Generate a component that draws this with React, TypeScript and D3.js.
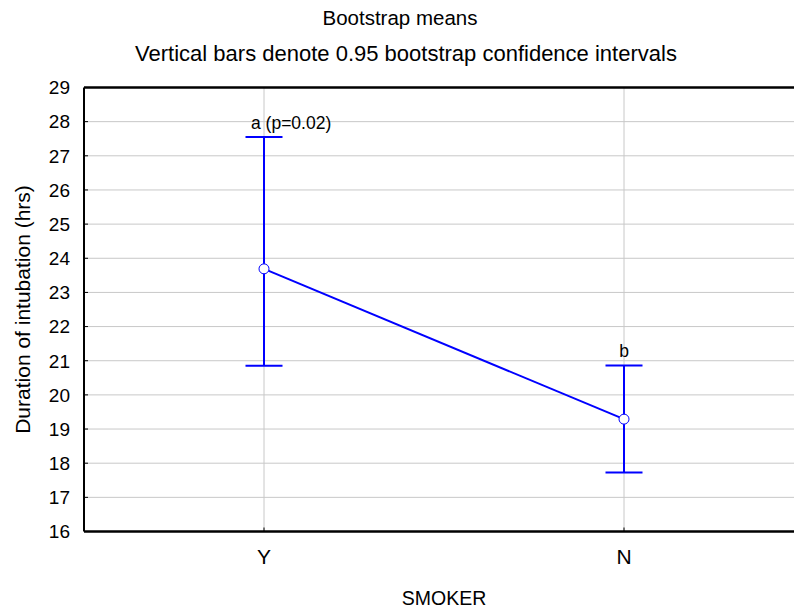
import React from "react";
import * as d3 from "d3";

const categories = ["Y", "N"];
const means = [23.69, 19.29];
const lower = [20.85, 17.73];
const upper = [27.55, 20.86];
const annotations = ["a (p=0.02)", "b"];
const yTicks = [16, 17, 18, 19, 20, 21, 22, 23, 24, 25, 26, 27, 28, 29];

const W = 794;
const H = 614;
const M = { left: 84, right: 794, top: 87.5, bottom: 531.5 };
const FONT = "'Liberation Sans', Arial, sans-serif";
const BLUE = "#0000ff";

export default function App() {
  const x = d3.scalePoint<string>().domain(categories).range([264, 624]);
  const y = d3.scaleLinear().domain([16, 29]).range([M.bottom, M.top]);
  const line = d3
    .line<number>()
    .x((_, i) => x(categories[i]) as number)
    .y((d) => y(d));

  return (
    <svg
      width={W}
      height={H}
      style={{ position: "absolute", left: 0, top: 0, background: "#fff" }}
      fontFamily={FONT}
    >
      <rect width={W} height={H} fill="#fff" />
      <text x={400} y={25} textAnchor="middle" fontSize={20.5}>
        Bootstrap means
      </text>
      <text x={406} y={61} textAnchor="middle" fontSize={22}>
        Vertical bars denote 0.95 bootstrap confidence intervals
      </text>

      {/* grid */}
      {yTicks.map((t) => (
        <line key={"g" + t} x1={M.left} x2={M.right} y1={y(t)} y2={y(t)} stroke="#c8c8c8" strokeWidth={1} />
      ))}
      {categories.map((c) => (
        <line key={"v" + c} x1={x(c)} x2={x(c)} y1={M.top} y2={M.bottom} stroke="#c8c8c8" strokeWidth={1} />
      ))}

      {/* frame */}
      <line x1={M.left} x2={M.right} y1={M.top} y2={M.top} stroke="#000" strokeWidth={2.5} />
      <line x1={M.left} x2={M.right} y1={M.bottom} y2={M.bottom} stroke="#000" strokeWidth={2.5} />
      <line x1={M.left} x2={M.left} y1={M.top} y2={M.bottom} stroke="#000" strokeWidth={2} />

      {/* y ticks */}
      {yTicks.map((t) => (
        <g key={"t" + t}>
          <line x1={M.left} x2={M.left + 4} y1={y(t)} y2={y(t)} stroke="#000" strokeWidth={1} />
          <text x={70} y={y(t)} dy="0.36em" textAnchor="end" fontSize={19}>
            {t}
          </text>
        </g>
      ))}
      {/* x ticks */}
      {categories.map((c) => (
        <g key={"xt" + c}>
          <line x1={x(c)} x2={x(c)} y1={M.bottom} y2={M.bottom - 4} stroke="#000" strokeWidth={1} />
          <text x={x(c)} y={564} textAnchor="middle" fontSize={21}>
            {c}
          </text>
        </g>
      ))}

      <text x={444} y={605} textAnchor="middle" fontSize={19.5}>
        SMOKER
      </text>
      <text
        transform={`translate(30,${(M.top + M.bottom) / 2}) rotate(-90)`}
        textAnchor="middle"
        fontSize={21}
      >
        Duration of intubation (hrs)
      </text>

      {/* error bars */}
      {categories.map((c, i) => {
        const cx = x(c) as number;
        return (
          <g key={"e" + c} stroke={BLUE} strokeWidth={2}>
            <line x1={cx} x2={cx} y1={y(lower[i])} y2={y(upper[i])} />
            <line x1={cx - 18.5} x2={cx + 18.5} y1={y(lower[i])} y2={y(lower[i])} />
            <line x1={cx - 18.5} x2={cx + 18.5} y1={y(upper[i])} y2={y(upper[i])} />
          </g>
        );
      })}

      <path d={line(means) || ""} fill="none" stroke={BLUE} strokeWidth={2} />
      {categories.map((c, i) => (
        <circle key={"m" + c} cx={x(c)} cy={y(means[i])} r={5} fill="#fff" stroke={BLUE} strokeWidth={1} />
      ))}

      <text x={251} y={129} fontSize={17.5}>
        {annotations[0]}
      </text>
      <text x={x("N")} y={357} textAnchor="middle" fontSize={17.5}>
        {annotations[1]}
      </text>
    </svg>
  );
}
